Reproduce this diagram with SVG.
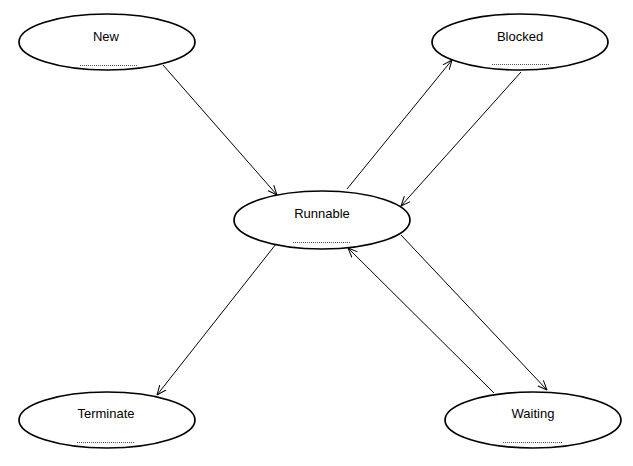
<svg xmlns="http://www.w3.org/2000/svg" width="633" height="466" viewBox="0 0 633 466">
<style>
.node ellipse{fill:#fff;stroke:#000;stroke-width:1.7}
.node text{font-family:"Liberation Sans",Arial,sans-serif;font-size:13px;fill:#000;text-anchor:middle}
.node line{stroke:#555;stroke-width:1;stroke-dasharray:1 1}
.edges line{stroke:#000;stroke-width:1;fill:none}
</style>
<defs>
<marker id="arr" viewBox="0 0 10 10" refX="9.5" refY="5" markerWidth="10" markerHeight="10" markerUnits="userSpaceOnUse" orient="auto">
<path d="M0,1 L9.5,5 L0,9" fill="none" stroke="#000" stroke-width="1"/>
</marker>
</defs>
<rect width="633" height="466" fill="#fff"/>
<g class="edges" id="connectors">
<line x1="163" y1="65" x2="277" y2="195" marker-end="url(#arr)"/>
<line x1="347" y1="189" x2="452" y2="60" marker-end="url(#arr)"/>
<line x1="521" y1="72" x2="401" y2="206" marker-end="url(#arr)"/>
<line x1="401" y1="235" x2="547" y2="390" marker-end="url(#arr)"/>
<line x1="494" y1="393" x2="348" y2="248" marker-end="url(#arr)"/>
<line x1="276" y1="244" x2="157" y2="395" marker-end="url(#arr)"/>
</g>
<g class="node" id="new">
<ellipse cx="107" cy="42" rx="88" ry="28"/>
<text x="106" y="41">New</text>
<line x1="80" y1="65.5" x2="138" y2="65.5"/>
</g>
<g class="node" id="blocked">
<ellipse cx="520" cy="42" rx="88" ry="28"/>
<text x="520" y="41">Blocked</text>
<line x1="492" y1="64.5" x2="550" y2="64.5"/>
</g>
<g class="node" id="runnable">
<ellipse cx="322" cy="220" rx="88" ry="29"/>
<text x="322" y="218">Runnable</text>
<line x1="293" y1="242.5" x2="351" y2="242.5"/>
</g>
<g class="node" id="terminate">
<ellipse cx="107" cy="420" rx="88" ry="28"/>
<text x="106" y="418">Terminate</text>
<line x1="77" y1="442.5" x2="135" y2="442.5"/>
</g>
<g class="node" id="waiting">
<ellipse cx="533" cy="420" rx="88" ry="28"/>
<text x="533" y="418">Waiting</text>
<line x1="503" y1="442.5" x2="562" y2="442.5"/>
</g>
</svg>
